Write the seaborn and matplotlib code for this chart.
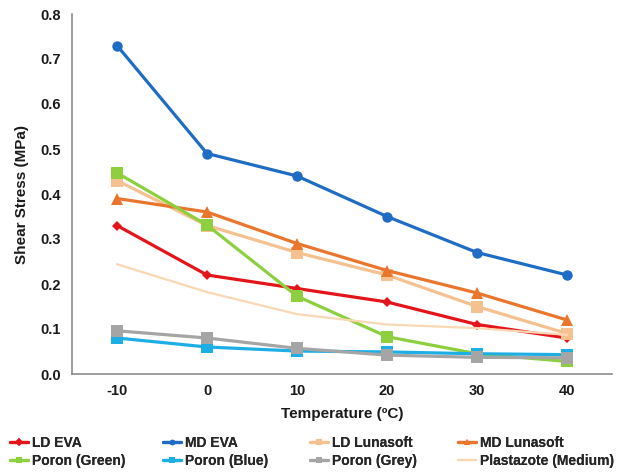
import numpy as np
import pandas as pd
import seaborn as sns
import matplotlib.pyplot as plt

temperatures = [-10, 0, 10, 20, 30, 40]
series_names = ["LD EVA", "MD EVA", "LD Lunasoft", "MD Lunasoft",
                "Poron (Green)", "Poron (Blue)", "Poron (Grey)", "Plastazote (Medium)"]
ld_eva = [0.33, 0.22, 0.19, 0.16, 0.11, 0.08]
md_eva = [0.73, 0.49, 0.44, 0.35, 0.27, 0.22]
ld_lunasoft = [0.43, 0.33, 0.27, 0.22, 0.15, 0.09]
md_lunasoft = [0.39, 0.36, 0.29, 0.23, 0.18, 0.12]
poron_green = [0.447, 0.331, 0.173, 0.083, 0.045, 0.028]
poron_blue = [0.080, 0.060, 0.051, 0.049, 0.045, 0.043]
poron_grey = [0.096, 0.080, 0.057, 0.042, 0.037, 0.036]
plastazote = [0.244, 0.182, 0.133, 0.110, 0.102, 0.087]
x_tick_labels = ["-10", "0", "10", "20", "30", "40"]

values = [ld_eva, md_eva, ld_lunasoft, md_lunasoft,
          poron_green, poron_blue, poron_grey, plastazote]

colors = {"LD EVA": "#e4141b", "MD EVA": "#1f6cc4", "LD Lunasoft": "#f6c190",
          "MD Lunasoft": "#e9762c", "Poron (Green)": "#8dcf3f", "Poron (Blue)": "#1eaee6",
          "Poron (Grey)": "#a5a5a5", "Plastazote (Medium)": "#fbd8b4"}
markers = {"LD EVA": "D", "MD EVA": "o", "LD Lunasoft": "s", "MD Lunasoft": "^",
           "Poron (Green)": "s", "Poron (Blue)": "s", "Poron (Grey)": "s",
           "Plastazote (Medium)": ""}

df = pd.DataFrame({
    "Temperature": np.tile(temperatures, len(series_names)),
    "Shear": np.concatenate(values),
    "Material": np.repeat(series_names, len(temperatures)),
})

sns.set_theme(style="white")
plt.rcParams["font.family"] = ["Liberation Sans", "DejaVu Sans"]

fig = plt.figure(figsize=(6.17, 4.73), dpi=100)
ax = fig.add_axes([72 / 617, 1 - 374 / 473, 540 / 617, 360 / 473])

for name in series_names:
    sub = df[df["Material"] == name]
    m = markers[name]
    sns.lineplot(data=sub, x="Temperature", y="Shear", ax=ax, color=colors[name],
                 marker=m if m else None,
                 markersize={"D": 5.5, "o": 7.5, "s": 8, "^": 8}.get(m, 0),
                 markeredgewidth=0,
                 linewidth=1.6 if name == "Plastazote (Medium)" else 2.3,
                 label=name, legend=False)

ax.set_xlim(-15, 45)
ax.set_ylim(0, 0.8)
ax.set_xticks(temperatures)
ax.set_xticklabels(x_tick_labels)
ax.set_xticks(np.arange(-15, 46, 10), minor=True)
ax.set_yticks(np.arange(0, 0.81, 0.1))
ax.set_yticklabels([f"{v:.1f}" for v in np.arange(0, 0.81, 0.1)])
ax.tick_params(axis="x", which="major", length=0, pad=7, labelsize=10.5)
ax.tick_params(axis="x", which="minor", length=4, width=1, color="#8c8c8c", direction="out")
ax.tick_params(axis="y", length=4, width=1, color="#8c8c8c", direction="out", pad=4, labelsize=10.5)
for lab in ax.get_xticklabels() + ax.get_yticklabels():
    lab.set_fontweight("bold")
    lab.set_color("#1a1a1a")

for side in ["top", "right"]:
    ax.spines[side].set_visible(False)
for side in ["left", "bottom"]:
    ax.spines[side].set_color("#8c8c8c")
    ax.spines[side].set_linewidth(1.2)

ax.set_xlabel("Temperature (ºC)", fontsize=11, fontweight="bold", labelpad=7, color="#1a1a1a")
ax.set_ylabel("Shear Stress (MPa)", fontsize=11, fontweight="bold", labelpad=8, color="#1a1a1a")

# Legend: four columns of two entries each
handles, labels = ax.get_legend_handles_labels()
lookup = dict(zip(labels, handles))
columns = [["LD EVA", "Poron (Green)"], ["MD EVA", "Poron (Blue)"],
           ["LD Lunasoft", "Poron (Grey)"], ["MD Lunasoft", "Plastazote (Medium)"]]
col_x = [10, 163, 310, 458]
for names, x0 in zip(columns, col_x):
    leg = fig.legend([lookup[k] for k in names], names, loc="upper left",
                     bbox_to_anchor=(x0 / 617, 1 - 436 / 473), frameon=False,
                     handlelength=1.3, handletextpad=0.3, labelspacing=0.28,
                     borderpad=0, borderaxespad=0,
                     prop={"weight": "bold", "size": 10})
    for h in leg.legend_handles:
        h.set_markersize(4)
    fig.add_artist(leg)

fig.savefig("out.png", dpi=100)
